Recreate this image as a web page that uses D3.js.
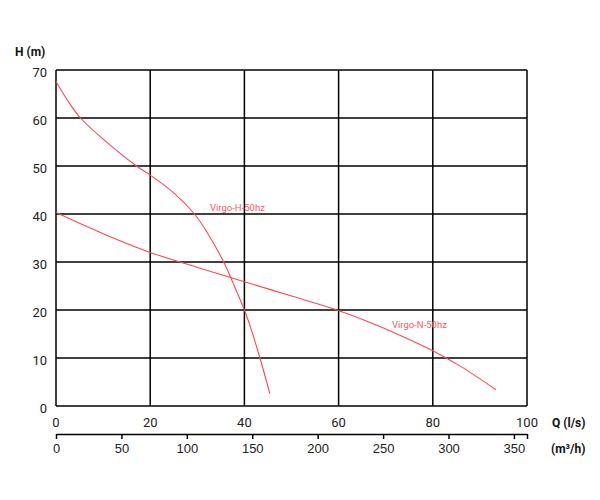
<!DOCTYPE html>
<html>
<head>
<meta charset="utf-8">
<script src="https://cdn.jsdelivr.net/npm/d3@7"></script>
<style>
  body { margin: 0; background: #fff; }
  svg { font-family: Roboto, "Noto Sans", sans-serif; }
</style>
</head>
<body>
<svg width="600" height="500"></svg>
<script>
// flow in l/s, head in m
const qTicks = [0, 20, 40, 60, 80, 100];
const hTicks = [0, 10, 20, 30, 40, 50, 60, 70];
const m3hTicks = [0, 50, 100, 150, 200, 250, 300, 350];

const virgoH_Q = [0, 2.5, 5.2, 10, 17.1, 20, 25, 29.4, 32, 35.5, 37.6, 40, 41.5, 43.3, 45.4];
const virgoH_H = [67.6, 63.6, 60, 55.6, 50, 48.1, 44.4, 40, 36.3, 30.2, 25.6, 20, 15.8, 10, 2.6];

const virgoN_Q = [0, 10, 20, 30.6, 40, 50, 59.6, 66.7, 73, 80, 86, 93.4];
const virgoN_H = [40.3, 35.9, 32.0, 28.7, 25.9, 22.9, 20, 17.4, 14.75, 11.5, 8.2, 3.4];

const svg = d3.select("svg");
const red = "#ff4656";

const x = d3.scaleLinear().domain([0, 100]).range([56, 527]);
const y = d3.scaleLinear().domain([0, 70]).range([406, 70]);
// second axis: m3/h, 100 l/s = 360 m3/h
const x2 = d3.scaleLinear().domain([0, 360]).range([56, 527]);

// grid
svg.append("g").selectAll("line")
  .data(hTicks)
  .join("line")
  .attr("x1", x(0)).attr("x2", x(100))
  .attr("y1", d => y(d)).attr("y2", d => y(d))
  .attr("stroke", "#000").attr("stroke-width", 1.5);

svg.append("g").selectAll("line")
  .data(qTicks)
  .join("line")
  .attr("x1", d => x(d)).attr("x2", d => x(d))
  .attr("y1", y(0)).attr("y2", y(70))
  .attr("stroke", "#000").attr("stroke-width", 1.5);

// tick labels
svg.append("g").selectAll("text")
  .data(hTicks)
  .join("text")
  .attr("x", 47).attr("y", d => y(d) + 7)
  .attr("text-anchor", "end")
  .attr("font-size", 13).attr("fill", "#222")
  .text(d => d);

svg.append("g").selectAll("text")
  .data(qTicks)
  .join("text")
  .attr("x", d => x(d)).attr("y", 427)
  .attr("text-anchor", "middle")
  .attr("font-size", 13).attr("fill", "#222")
  .text(d => d);

// m3/h axis
const ax2 = svg.append("g")
  .attr("transform", "translate(0,434)")
  .call(d3.axisBottom(x2).tickValues(m3hTicks.concat([360])).tickSize(5).tickSizeOuter(0)
    .tickFormat(d => d === 360 ? "" : d));
ax2.select(".domain").attr("stroke", "#000").attr("stroke-width", 1.5);
ax2.selectAll(".tick line").attr("stroke", "#000").attr("stroke-width", 1.5);
ax2.selectAll(".tick text")
  .attr("font-size", 13).attr("fill", "#222").attr("font-family", null)
  .attr("y", 19).attr("dy", null);

// axis titles
svg.append("text").attr("x", 15).attr("y", 56)
  .attr("font-size", 12).attr("font-weight", "bold").attr("fill", "#111")
  .text("H (m)");
svg.append("text").attr("x", 552).attr("y", 427)
  .attr("font-size", 12).attr("font-weight", "bold").attr("fill", "#111")
  .text("Q (l/s)");
svg.append("text").attr("x", 551).attr("y", 453)
  .attr("font-size", 12).attr("font-weight", "bold").attr("fill", "#111")
  .text("(m³/h)");

// curves
const line = d3.line()
  .x(d => x(d[0])).y(d => y(d[1]))
  .curve(d3.curveCatmullRom.alpha(0.5));

svg.append("path")
  .datum(d3.zip(virgoH_Q, virgoH_H))
  .attr("d", line)
  .attr("fill", "none").attr("stroke", red).attr("stroke-width", 1.1);

svg.append("path")
  .datum(d3.zip(virgoN_Q, virgoN_H))
  .attr("d", line)
  .attr("fill", "none").attr("stroke", red).attr("stroke-width", 1.1);

svg.append("text").attr("x", 210).attr("y", 211)
  .attr("font-size", 9.5).attr("fill", "#ff5563")
  .text("Virgo-H-50hz");
svg.append("text").attr("x", 392).attr("y", 328)
  .attr("font-size", 9.5).attr("fill", "#ff5563")
  .text("Virgo-N-50hz");
</script>
</body>
</html>
